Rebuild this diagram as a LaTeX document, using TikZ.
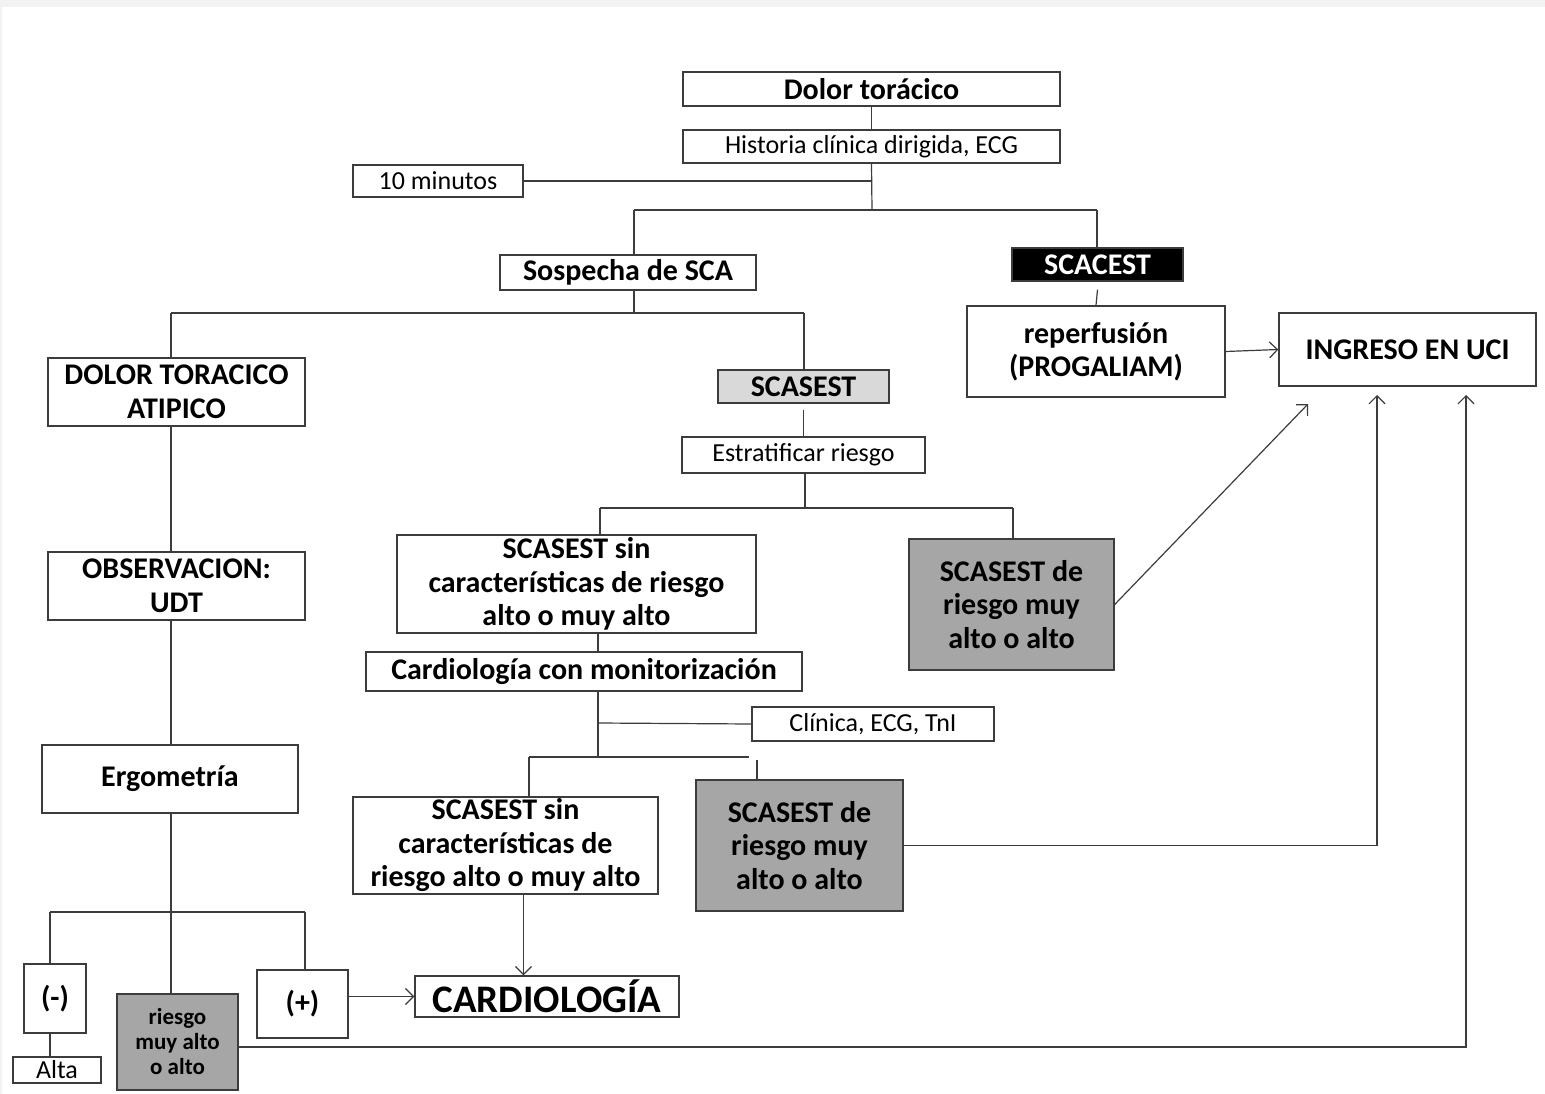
\documentclass[tikz,border=0pt]{standalone}
\usepackage{fontspec}
\setmainfont{Carlito}
\usetikzlibrary{arrows.meta}
\definecolor{bggray}{HTML}{F2F2F2}
\definecolor{linecol}{HTML}{3C3C3C}
\definecolor{lgray}{HTML}{D9D9D9}
\definecolor{mgray}{HTML}{A6A6A6}
\newcommand{\mkbox}[7]{%
  \node[#1, minimum width={(#5-#3)*1pt}, minimum height={(#6-#4)*1pt}] (#2) at ({(#3+#5)/2},{(#4+#6)/2}) {#7};}
\begin{document}
\begin{tikzpicture}[x=1pt,y=-1pt,
  box/.style={draw=linecol, line width=1.4pt, fill=white, align=center, inner sep=0pt, text=black},
  bold/.style={box, font=\bfseries\fontsize{30}{33.5}\selectfont},
  reg/.style={box, font=\fontsize{26}{30}\selectfont},
  big/.style={box, font=\bfseries\fontsize{39}{44}\selectfont},
  small/.style={box, font=\bfseries\fontsize{23}{25}\selectfont},
  conn/.style={draw=linecol, line width=1.2pt},
  arr/.style={conn, -{Straight Barb[length=8pt,width=16pt,line width=1.2pt]}}]
\fill[bggray] (0,0) rectangle (1545,1094);
\fill[white] (2,7) rectangle (1545,1094);
\useasboundingbox (0,0) rectangle (1545,1094);
% nodes
\mkbox{bold}{dolor}{683}{72}{1060}{106}{Dolor torácico}
\mkbox{reg}{hist}{683}{130}{1060}{163}{Historia clínica dirigida, ECG}
\mkbox{reg}{mins}{353}{165}{523}{197}{10 minutos}
\mkbox{bold}{sosp}{500}{255}{756}{290}{Sospecha de SCA}
\mkbox{bold,fill=black,text=white}{scacest}{1012}{248}{1183}{281}{SCACEST}
\mkbox{bold}{atip}{48}{358}{305}{426}{DOLOR TORACICO\\ATIPICO}
\mkbox{bold,fill=lgray}{scasest}{718}{370}{889}{403}{SCASEST}
\mkbox{bold}{reperf}{967}{306}{1225}{397}{reperfusión\\(PROGALIAM)}
\mkbox{bold}{uci}{1279}{313}{1536}{386}{INGRESO EN UCI}
\mkbox{reg}{estrat}{682}{437}{925}{473}{Estratificar riesgo}
\mkbox{bold}{sin1}{397}{535}{756}{633}{SCASEST sin\\características de riesgo\\alto o muy alto}
\mkbox{bold,fill=mgray}{alto1}{909}{539}{1114}{670}{SCASEST de\\riesgo muy\\alto o alto}
\mkbox{bold}{cardmon}{366}{652}{802}{691}{Cardiología con monitorización}
\mkbox{reg}{clin}{752}{707}{994}{741}{Clínica, ECG, TnI}
\mkbox{bold}{sin2}{353}{797}{658}{894}{SCASEST sin\\características de\\riesgo alto o muy alto}
\mkbox{bold,fill=mgray}{alto2}{696}{780}{903}{911}{SCASEST de\\riesgo muy\\alto o alto}
\mkbox{bold}{obs}{48}{552}{305}{620}{OBSERVACION:\\UDT}
\mkbox{bold}{ergo}{42}{745}{298}{813}{Ergometría}
\mkbox{bold}{neg}{24}{964}{86}{1033}{(-)}
\mkbox{reg}{alta}{13}{1057}{101}{1083}{Alta}
\mkbox{small,fill=mgray}{rma}{117}{994}{238}{1090}{riesgo\\muy alto\\o alto}
\mkbox{bold}{pos}{257}{970}{348}{1038}{(+)}
\mkbox{big}{cardio}{415}{976}{679}{1017}{CARDIOLOGÍA}
% junction coordinates
\coordinate (j1) at (872,210);
\coordinate (j1L) at (634,210);
\coordinate (j1R) at (1097,210);
\coordinate (j2) at (634,313);
\coordinate (j2L) at (171,313);
\coordinate (j2R) at (804,313);
\coordinate (j3) at (805,508);
\coordinate (j3L) at (600,508);
\coordinate (j3R) at (1013,508);
\coordinate (k) at (598,723);
\coordinate (j5) at (598,757);
\coordinate (j5L) at (529,757);
\coordinate (j5E) at (749,757);
\coordinate (j5R) at (757,760);
\coordinate (c) at (171,912);
\coordinate (j6L) at (50,912);
\coordinate (j6R) at (305,912);
\coordinate (u1) at (1308,404);
\coordinate (u2) at (1377,395);
\coordinate (u3) at (1466,395);
% connectors
\draw[conn] (dolor) -- (hist);
\draw[conn] (hist.south) -- (j1);
\draw[conn] (mins.east) -- (mins.east -| j1);
\draw[conn] (j1L) -- (j1R);
\draw[conn] (j1L) -- (j1L |- sosp.north);
\draw[conn] (j1R) -- (j1R |- scacest.north);
\draw[conn] ([yshift=-8pt]scacest.south) -- (reperf.north);
\draw[conn] (j2 |- sosp.south) -- (j2);
\draw[conn] (j2L) -- (j2R);
\draw[conn] (j2L) -- (j2L |- atip.north);
\draw[conn] (j2R) -- (j2R |- scasest.north);
\draw[conn] ([yshift=-6pt]scasest.south) -- (estrat.north);
\draw[conn] (j3 |- estrat.south) -- (j3);
\draw[conn] (j3L) -- (j3R);
\draw[conn] (j3L) -- (j3L |- sin1.north);
\draw[conn] (j3R) -- (j3R |- alto1.north);
\draw[conn] (k |- sin1.south) -- (k |- cardmon.north);
\draw[conn] (k |- cardmon.south) -- (j5);
\draw[conn] (k) -- (clin.west);
\draw[conn] (j5L) -- (j5E);
\draw[conn] (j5L) -- (j5L |- sin2.north);
\draw[conn] (j5R) -- (j5R |- alto2.north);
\draw[arr] (reperf.east) -- (uci.west);
\draw[arr] (alto1.east) -- (u1);
\draw[arr] (alto2.east) -| (u2);
\draw[arr] ([yshift=-5pt]rma.east) -| (u3);
\draw[conn] (c |- atip.south) -- (c |- obs.north);
\draw[conn] (c |- obs.south) -- (c |- ergo.north);
\draw[conn] (c |- ergo.south) -- (c |- rma.north);
\draw[conn] (j6L) -- (j6R);
\draw[conn] (j6L) -- (j6L |- neg.north);
\draw[conn] (j6L |- neg.south) -- (j6L |- alta.north);
\draw[conn] (j6R) -- (j6R |- pos.north);
\draw[arr] (pos.east |- cardio.west) -- (cardio.west);
\draw[arr] ([xshift=18pt]sin2.south) -- ([xshift=18pt]sin2.south |- cardio.north);
\end{tikzpicture}
\end{document}
